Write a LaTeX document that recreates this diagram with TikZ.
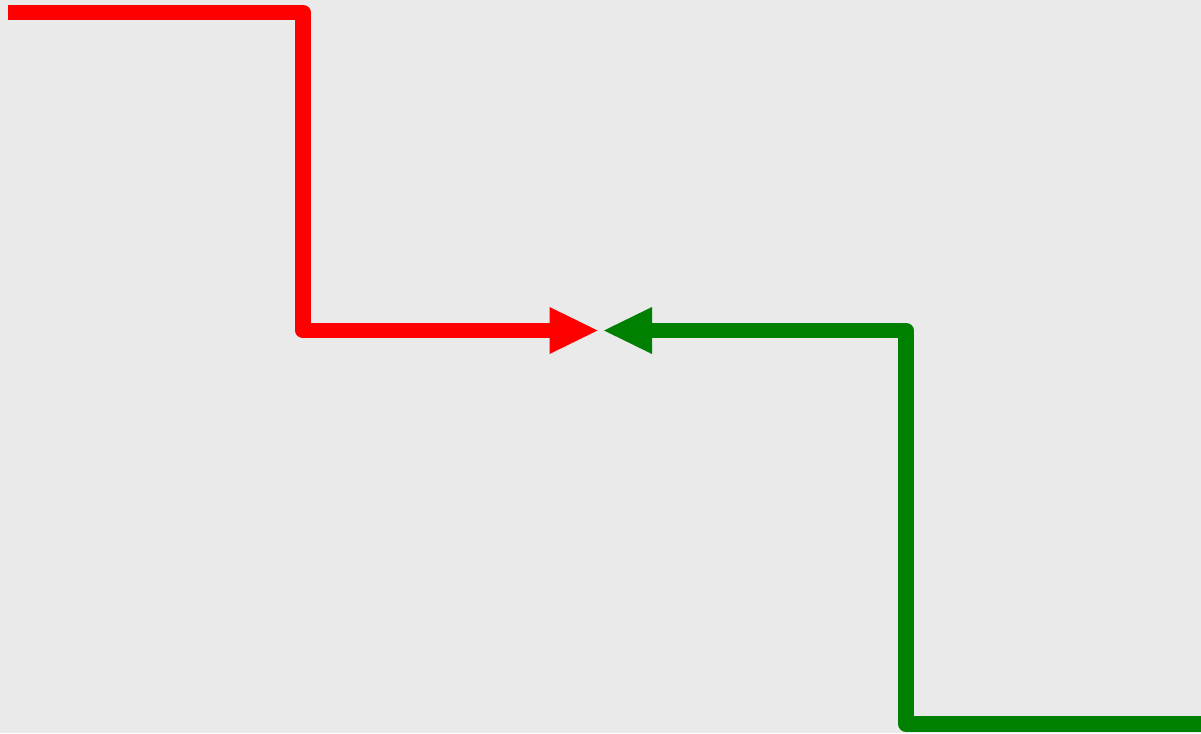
\documentclass[tikz,border=0pt]{standalone}
\usetikzlibrary{arrows.meta}
\definecolor{bggray}{RGB}{234,234,234}
\definecolor{linered}{RGB}{255,0,0}
\definecolor{linegreen}{RGB}{0,128,0}
\begin{document}
\begin{tikzpicture}[x=1pt,y=-1pt,
  connector/.style={line width=15.5pt,line join=round,
    -{Triangle[length=48pt,width=47pt,line width=0pt]}}]
\fill[bggray] (0,0) rectangle (1201,733);
\useasboundingbox (0,0) rectangle (1201,733);
\coordinate (rstart) at (8,12.5);
\coordinate (rcorner1) at (303,12.5);
\coordinate (rcorner2) at (303,330.5);
\coordinate (rtip) at (597.5,330.5);
\coordinate (gstart) at (1201,724);
\coordinate (gcorner1) at (906,724);
\coordinate (gcorner2) at (906,330.5);
\coordinate (gtip) at (604,330.5);
\draw[connector,linered] (rstart) -- (rcorner1) -- (rcorner2) -- (rtip);
\draw[connector,linegreen] (gstart) -- (gcorner1) -- (gcorner2) -- (gtip);
\end{tikzpicture}
\end{document}
